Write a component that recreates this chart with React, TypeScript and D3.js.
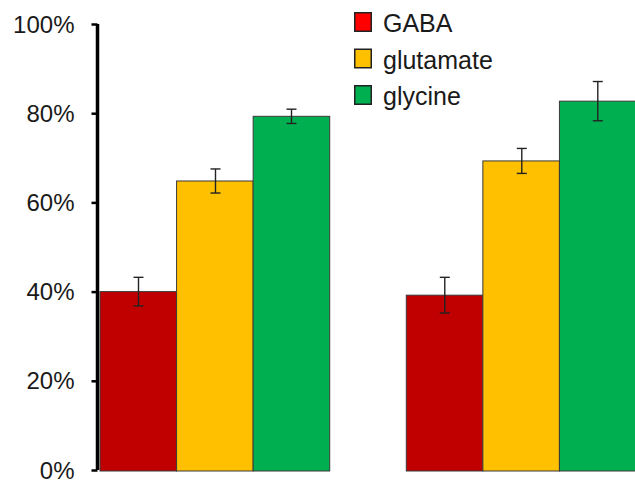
import React, { useEffect, useRef } from 'react'
import * as d3 from 'd3'

// data
const groups = ['A', 'B']
const series = ['GABA', 'glutamate', 'glycine']
const means = [
  [40.0, 64.8, 79.3],
  [39.2, 69.3, 82.7],
]
const errors = [
  [3.2, 2.7, 1.6],
  [4.0, 2.8, 4.4],
]
const yTicks = [0, 20, 40, 60, 80, 100]
const barColors = ['#C00000', '#FFC000', '#00B050']
const legendColors = ['#FF0000', '#FFC000', '#00B050']

const App = () => {
  const ref = useRef<SVGSVGElement>(null)

  useEffect(() => {
    const width = 635,
      height = 485
    const svg = d3.select(ref.current)
    svg.selectAll('*').remove()
    svg.attr('width', width).attr('height', height)

    const y = d3.scaleLinear().domain([0, 100]).range([470, 24])
    const x0 = d3
      .scaleBand()
      .domain(groups)
      .range([100, 636])
      .paddingInner(0.25)
      .paddingOuter(0)
    const x1 = d3.scaleBand().domain(series).range([0, x0.bandwidth()])

    const font = "'Liberation Sans', Arial, sans-serif"

    // bars
    groups.forEach((g, gi) => {
      const gg = svg.append('g').attr('transform', 'translate(' + x0(g) + ',0)')
      series.forEach((s, si) => {
        const v = means[gi][si]
        gg.append('rect')
          .attr('x', x1(s)!)
          .attr('y', y(v))
          .attr('width', x1.bandwidth())
          .attr('height', y(0) - y(v) + 1)
          .attr('fill', barColors[si])
          .attr('stroke', '#3a3a3a')
          .attr('stroke-width', 1)
      })
      // error bars
      series.forEach((s, si) => {
        const v = means[gi][si]
        const e = errors[gi][si]
        const cx = Math.round(x1(s)! + x1.bandwidth() / 2) + 0.5
        const eb = gg.append('g').attr('stroke', '#222').attr('stroke-width', 1.4)
        eb.append('line').attr('x1', cx).attr('x2', cx).attr('y1', y(v + e)).attr('y2', y(v - e))
        eb.append('line').attr('x1', cx - 5).attr('x2', cx + 5).attr('y1', y(v + e)).attr('y2', y(v + e))
        eb.append('line').attr('x1', cx - 5).attr('x2', cx + 5).attr('y1', y(v - e)).attr('y2', y(v - e))
      })
    })

    // y axis
    const axis = svg
      .append('g')
      .attr('transform', 'translate(97.5,0)')
      .call(
        d3
          .axisLeft(y)
          .tickValues(yTicks)
          .tickSize(6)
          .tickPadding(17)
          .tickFormat((d) => d + '%')
      )
    axis.select('.domain').attr('stroke', '#000').attr('stroke-width', 3.5)
      .attr('d', 'M0,' + y(100) + 'V' + y(0))
    axis.selectAll('.tick line').attr('stroke', '#000').attr('stroke-width', 2.5)
    axis
      .selectAll('.tick text')
      .attr('font-family', font)
      .attr('font-size', 24)
      .attr('fill', '#1a1a1a')
      .attr('dy', '0.34em')

    // legend
    const legend = svg.append('g').attr('transform', 'translate(354,12)')
    series.forEach((s, i) => {
      const row = legend.append('g').attr('transform', 'translate(0,' + i * 36.5 + ')')
      row.append('rect')
        .attr('x', 0.75)
        .attr('y', 0.75)
        .attr('width', 16.5)
        .attr('height', 18.5)
        .attr('fill', legendColors[i])
        .attr('stroke', '#222')
        .attr('stroke-width', 1.5)
      row.append('text')
        .attr('x', 29)
        .attr('y', 20)
        .attr('font-family', font)
        .attr('font-size', 25)
        .attr('fill', '#1a1a1a')
        .text(s)
    })
  }, [])

  return (
    <div style={{ position: 'absolute', left: 0, top: 0 }}>
      <svg ref={ref} style={{ display: 'block' }}></svg>
    </div>
  )
}

export default App
